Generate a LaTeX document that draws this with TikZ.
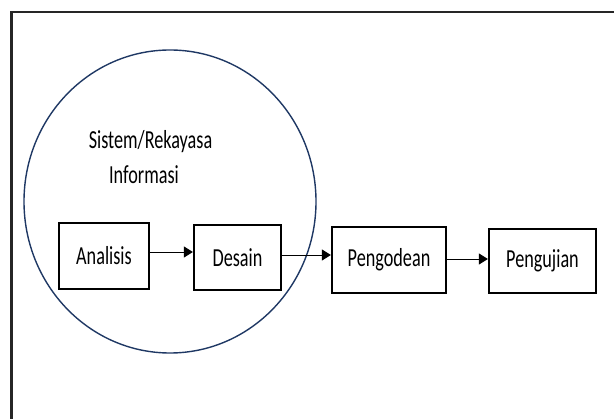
\documentclass[tikz,border=0pt]{standalone}
\usepackage{fontspec}
\setmainfont[FakeStretch=0.70]{Carlito}
\usetikzlibrary{arrows.meta}
\definecolor{navy}{HTML}{1F3864}
\tikzset{
  stage/.style={draw=black, line width=2.2pt, inner sep=0pt, font=\fontsize{26}{30}\selectfont},
  flow/.style={draw=black, line width=0.9pt, -{Triangle[length=9pt,width=11pt]}},
  lbl/.style={font=\fontsize{26}{30}\selectfont, inner sep=0pt, anchor=base},
}
\begin{document}
\begin{tikzpicture}[x=1pt,y=-1pt]
\useasboundingbox (0,0) rectangle (614,419);
\draw[line width=2.4pt, draw=black!85] (11.5,419) -- (11.5,12) -- (614,12);
\draw[navy, line width=1.4pt] (170,201.5) ellipse [x radius=146, y radius=151.5];
\node[lbl] (t1) at (150.5,149) {Sistem/Rekayasa};
\node[lbl] (t2) at (144,184) {Informasi};
\node[stage, minimum width=90pt, minimum height=66pt] (an) at (104,256) {Analisis};
\node[stage, minimum width=87pt, minimum height=65pt] (de) at (237.5,257.5) {Desain};
\node[stage, minimum width=114pt, minimum height=66pt] (pe) at (389,260) {Pengodean};
\node[stage, minimum width=107pt, minimum height=64pt] (pu) at (542.5,261) {Pengujian};
\draw[flow] (an.east |- 0,252) -- (de.west |- 0,252);
\draw[flow] (de.east |- 0,255) -- (pe.west |- 0,255);
\draw[flow] (pe.east |- 0,259) -- (pu.west |- 0,259);
\end{tikzpicture}
\end{document}
